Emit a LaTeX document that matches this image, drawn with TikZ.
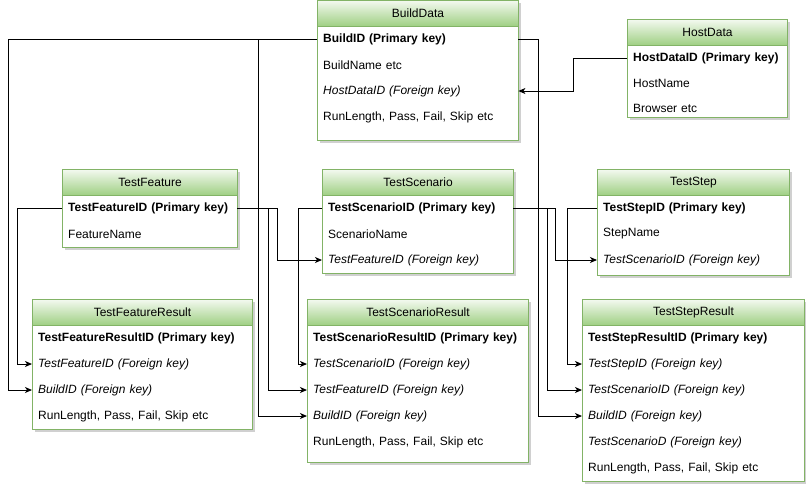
\documentclass[tikz,border=0pt]{standalone}
\usepackage{fontspec}
\setmainfont{Liberation Sans}
\usetikzlibrary{arrows.meta}
\definecolor{bgreen}{HTML}{82B366}
\definecolor{htop}{HTML}{F3F9EF}
\definecolor{hbot}{HTML}{9ECF82}
\definecolor{shd}{HTML}{D0D0D0}
\tikzset{
  hdr/.style={anchor=north west, draw=bgreen, line width=1pt, top color=htop, bottom color=hbot,
    minimum height=26pt, inner sep=0pt, font=\fontsize{12}{14}\selectfont, text=black},
  rowtext/.style={anchor=west, inner xsep=6pt, inner ysep=0pt, minimum height=20pt, align=left,
    font=\fontsize{12}{14}\selectfont},
  conn/.style={draw=black, line width=1pt},
  fk/.style={conn, -{Stealth[length=7pt,width=6pt,inset=2pt]}}
}
\newcommand{\ertable}[6]{%
  \fill[shd] (#2+3,#3+3) rectangle (#2+#4+3,#5+3);
  \draw[bgreen, line width=1pt, fill=white] (#2,#3) rectangle (#2+#4,#5);
  \node[hdr, minimum width=#4pt] (#1) at (#2,#3) {#6};
}
\newcommand{\errow}[5]{%
  \pgfmathsetmacro\ertw{#4-12}
  \node[rowtext, text width=\ertw pt] (#1) at (#2,#3) {#5};
}
\begin{document}
\begin{tikzpicture}[x=1pt, y=-1pt]
\useasboundingbox[fill=white] (0,0) rectangle (806,488);

% BuildData
\ertable{bd}{317}{0}{201}{140}{BuildData}
\errow{bd1}{317}{39}{201}{\textbf{BuildID (Primary key)}}
\errow{bd2}{317}{65}{201}{BuildName etc}
\errow{bd3}{317}{91}{201}{\textit{HostDataID (Foreign key)}}
\errow{bd4}{317}{117}{201}{RunLength, Pass, Fail, Skip etc}

% HostData
\ertable{hd}{627}{19}{160}{117}{HostData}
\errow{hd1}{627}{58}{160}{\textbf{HostDataID (Primary key)}}
\errow{hd2}{627}{83}{160}{HostName}
\errow{hd3}{627}{108}{160}{Browser etc}

% TestFeature
\ertable{tf}{62}{169}{175}{247}{TestFeature}
\errow{tf1}{62}{208}{175}{\textbf{TestFeatureID (Primary key)}}
\errow{tf2}{62}{234}{175}{FeatureName}

% TestScenario
\ertable{ts}{322}{169}{191}{273}{TestScenario}
\errow{ts1}{322}{208}{191}{\textbf{TestScenarioID (Primary key)}}
\errow{ts2}{322}{234}{191}{ScenarioName}
\errow{ts3}{322}{260}{191}{\textit{TestFeatureID (Foreign key)}}

% TestStep
\ertable{tst}{597}{169}{192}{275}{TestStep}
\errow{tst1}{597}{208}{192}{\textbf{TestStepID (Primary key)}}
\errow{tst2}{597}{234}{192}{StepName}
\errow{tst3}{597}{260}{192}{\textit{TestScenarioID (Foreign key)}}

% TestFeatureResult
\ertable{tfr}{32}{299}{220}{429}{TestFeatureResult}
\errow{tfr1}{32}{338}{220}{\textbf{TestFeatureResultID (Primary key)}}
\errow{tfr2}{32}{364}{220}{\textit{TestFeatureID (Foreign key)}}
\errow{tfr3}{32}{390}{220}{\textit{BuildID (Foreign key)}}
\errow{tfr4}{32}{416}{220}{RunLength, Pass, Fail, Skip etc}

% TestScenarioResult
\ertable{tsr}{307}{299}{221}{462}{TestScenarioResult}
\errow{tsr1}{307}{338}{221}{\textbf{TestScenarioResultID (Primary key)}}
\errow{tsr2}{307}{364}{221}{\textit{TestScenarioID (Foreign key)}}
\errow{tsr3}{307}{390}{221}{\textit{TestFeatureID (Foreign key)}}
\errow{tsr4}{307}{416}{221}{\textit{BuildID (Foreign key)}}
\errow{tsr5}{307}{442}{221}{RunLength, Pass, Fail, Skip etc}

% TestStepResult
\ertable{tstr}{582}{299}{222}{481}{TestStepResult}
\errow{tstr1}{582}{338}{222}{\textbf{TestStepResultID (Primary key)}}
\errow{tstr2}{582}{364}{222}{\textit{TestStepID (Foreign key)}}
\errow{tstr3}{582}{390}{222}{\textit{TestScenarioID (Foreign key)}}
\errow{tstr4}{582}{416}{222}{\textit{BuildID (Foreign key)}}
\errow{tstr5}{582}{442}{222}{\textit{TestScenarioD (Foreign key)}}
\errow{tstr6}{582}{468}{222}{RunLength, Pass, Fail, Skip etc}

% connectors
\draw[fk] (bd1.west) -| ([xshift=-24pt]tfr3.west) -- (tfr3.west);
\draw[fk] (bd1.west) -| ([xshift=-49pt]tsr4.west) -- (tsr4.west);
\draw[fk] (bd1.east) -| ([xshift=-44pt]tstr4.west) -- (tstr4.west);
\draw[fk] (hd1.west) -| ([xshift=55pt]bd3.east) -- (bd3.east);
\draw[fk] (tf1.west) -| ([xshift=-15pt]tfr2.west) -- (tfr2.west);
\draw[fk] (tf1.east) -| ([xshift=-45pt]ts3.west) -- (ts3.west);
\draw[fk] (tf1.east) -| ([xshift=-39pt]tsr3.west) -- (tsr3.west);
\draw[fk] (ts1.west) -| ([xshift=-9pt]tsr2.west) -- (tsr2.west);
\draw[fk] (ts1.east) -| ([xshift=-42pt]tst3.west) -- (tst3.west);
\draw[fk] (ts1.east) -| ([xshift=-35pt]tstr3.west) -- (tstr3.west);
\draw[fk] (tst1.west) -| ([xshift=-15pt]tstr2.west) -- (tstr2.west);
\end{tikzpicture}
\end{document}
